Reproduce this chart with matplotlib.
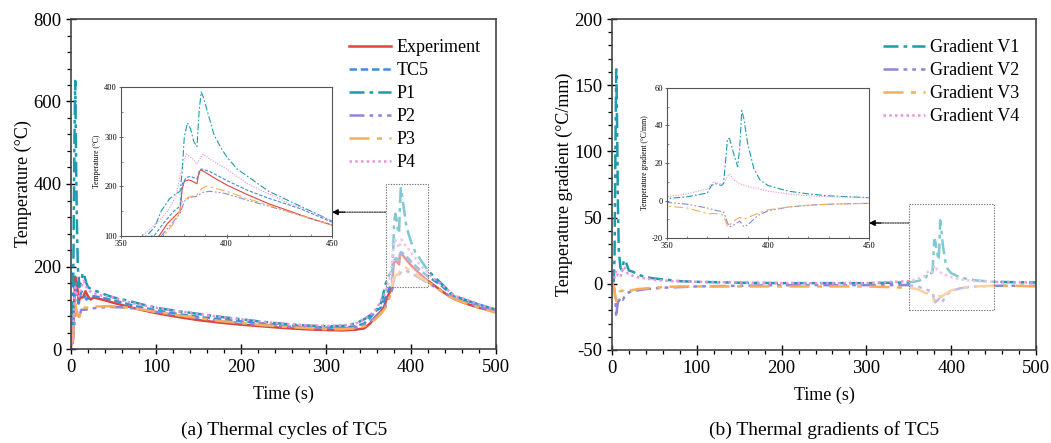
import matplotlib
matplotlib.use("Agg")
import matplotlib.pyplot as plt
from matplotlib.patches import Rectangle
from matplotlib.ticker import MultipleLocator
import numpy as np

plt.rcParams['font.family'] = ['Liberation Serif', 'DejaVu Serif']
plt.rcParams['mathtext.fontset'] = 'stix'
plt.rcParams['axes.unicode_minus'] = False

# ---------- (a) thermal cycles of TC5 ----------
exp_t = [0, 2, 4, 5, 7, 9, 11, 14, 17, 20, 23, 27, 32, 40, 50, 65, 80, 100, 125, 150, 175, 200, 225, 250,
         275, 300, 320, 335, 345, 352, 358, 364, 368, 372, 376, 378, 379, 380, 382, 384, 386, 387, 388, 390,
         395, 400, 410, 420, 430, 440, 450, 465, 480, 500]
exp_T = [10, 15, 120, 175, 160, 115, 125, 125, 140, 128, 120, 125, 122, 118, 112, 104, 96, 87, 78, 70, 64, 59, 55, 51,
         48, 46, 45, 47, 50, 62, 78, 90, 100, 125, 142, 150, 195, 210, 213, 210, 205, 230, 233, 228,
         215, 203, 183, 165, 150, 135, 122, 110, 100, 90]

tc5_t = [0, 2, 4, 5, 7, 9, 12, 15, 18, 22, 27, 35, 50, 65, 80, 100, 125, 150, 175, 200, 225, 250, 275, 300,
         320, 335, 345, 352, 358, 363, 366, 370, 375, 378, 379, 381, 383, 386, 388, 392, 400, 410, 420, 435,
         450, 465, 480, 500]
tc5_T = [10, 20, 140, 160, 125, 110, 140, 135, 120, 125, 128, 125, 118, 110, 102, 94, 85, 78, 72, 67, 62, 58, 55, 52,
         52, 55, 62, 75, 92, 98, 102, 125, 150, 160, 205, 218, 220, 215, 235, 230, 212, 192, 176, 155,
         128, 118, 108, 95]

p1_t = [0, 2, 3, 4, 5, 6, 7, 8, 10, 12, 14, 16, 18, 20, 24, 30, 40, 50, 65, 80, 100, 125, 150, 175, 200, 225,
        250, 275, 300, 320, 335, 345, 352, 358, 362, 366, 369, 373, 376, 378, 379, 380, 381.5, 383, 384.5, 386,
        387, 388, 389, 390, 392, 394, 397, 400, 405, 410, 420, 430, 440, 450, 465, 480, 500]
p1_T = [10, 60, 250, 500, 650, 450, 300, 200, 150, 165, 185, 175, 160, 150, 145, 140, 132, 125, 118, 110, 100, 92, 85, 78, 72, 66,
        61, 57, 55, 56, 62, 72, 82, 92, 100, 118, 150, 175, 185, 190, 230, 300, 328, 315, 290, 280,
        350, 390, 380, 365, 335, 305, 280, 260, 235, 220, 190, 170, 150, 130, 118, 107, 95]

p2_t = [0, 2, 4, 5, 6, 8, 10, 12, 15, 20, 30, 45, 60, 80, 100, 125, 150, 175, 200, 225, 250, 275, 300, 320,
        335, 345, 352, 358, 363, 366, 369, 372, 375, 378, 380, 383, 386, 389, 392, 396, 400, 410, 420, 430,
        440, 450, 465, 480, 500]
p2_T = [10, 15, 60, 85, 78, 75, 80, 95, 95, 96, 100, 102, 101, 97, 90, 82, 75, 68, 63, 58, 55, 52, 50, 50,
        53, 58, 66, 76, 86, 92, 100, 115, 130, 145, 170, 178, 180, 188, 190, 188, 185, 172, 160, 148,
        135, 123, 112, 102, 90]

p3_t = [0, 2, 4, 5, 6, 8, 10, 12, 15, 20, 30, 45, 60, 80, 100, 125, 150, 175, 200, 225, 250, 275, 300, 320,
        335, 345, 352, 358, 363, 367, 370, 374, 377, 379, 382, 386, 388, 390, 393, 400, 410, 420, 430, 440,
        450, 465, 480, 500]
p3_T = [10, 20, 90, 110, 100, 80, 78, 100, 100, 100, 103, 104, 102, 97, 90, 82, 75, 68, 63, 58, 54, 51, 48, 48,
        50, 55, 62, 72, 82, 92, 100, 120, 140, 170, 178, 183, 195, 200, 198, 190, 175, 162, 148, 135,
        122, 110, 100, 88]

p4_t = [0, 2, 4, 5, 6, 8, 10, 13, 15, 18, 22, 28, 35, 50, 65, 80, 100, 125, 150, 175, 200, 225, 250, 275, 300,
        320, 335, 345, 352, 358, 360, 364, 368, 372, 376, 379, 381, 384, 386, 388, 389, 392, 400, 410, 420,
        430, 440, 450, 465, 480, 500]
p4_T = [10, 25, 120, 150, 140, 125, 130, 155, 165, 150, 140, 135, 130, 125, 115, 108, 100, 92, 85, 78, 72, 66, 61, 58, 56,
        57, 62, 72, 82, 95, 100, 115, 130, 150, 180, 240, 265, 255, 245, 260, 265, 255, 235, 205, 185,
        165, 150, 130, 120, 108, 95]

# ---------- (b) thermal gradients of TC5 ----------
v1_t = [0, 2, 3, 4, 5, 6, 7, 8, 10, 12, 14, 16, 20, 25, 30, 40, 50, 65, 80, 100, 150, 200, 250, 300, 350, 360,
        365, 370, 372, 374, 377, 378, 380, 381, 383, 385, 386, 387, 388, 390, 393, 396, 400, 410, 420, 430,
        440, 450, 475, 500]
v1_g = [0, 2, 20, 100, 162, 120, 60, 25, 12, 10, 18, 17, 10, 9, 7, 5, 4, 3, 2, 1.5, 0.8, 0.5, 0.5, 0.5, 1, 2,
        3, 4, 8, 9, 8, 9, 33, 33, 25, 18, 28, 48, 44, 30, 17, 11, 8, 5, 3.5, 2.5,
        2, 1.5, 1.2, 1]

v2_t = [0, 2, 3, 4, 5, 6, 7, 9, 11, 13, 15, 18, 22, 30, 40, 60, 80, 100, 150, 200, 250, 300, 350, 360, 370,
        375, 378, 380, 381, 383, 386, 388, 390, 395, 400, 410, 420, 430, 450, 475, 500]
v2_g = [0, -2, -5, -12, -25, -18, -14, -12, -10, -12, -9, -7, -6, -5, -4, -3, -2.5, -2, -1.5, -1, -1, -1, -1, -2, -4,
        -5.5, -6, -12, -14, -13, -11, -14, -13, -8, -5.5, -3.5, -2.5, -2, -1.5, -1.5, -1.5]

v3_t = [0, 2, 3, 4, 5, 6, 7, 9, 12, 15, 18, 22, 30, 40, 60, 80, 100, 150, 200, 250, 300, 350, 360, 370, 376,
        378, 380, 381, 383, 386, 388, 390, 395, 400, 410, 420, 430, 450, 475, 500]
v3_g = [0, -2, -5, -10, -13, -11, -8, -6, -5, -7, -6, -5, -4, -3.5, -2.5, -2, -2, -2, -2, -2, -2, -3, -4, -7, -7,
        -8, -14, -13, -11, -9, -10, -9, -7, -5, -3.5, -2.5, -2, -1.5, -1.5, -2]

v4_t = [0, 2, 4, 5, 7, 10, 13, 15, 18, 20, 25, 30, 40, 50, 70, 100, 150, 200, 300, 350, 360, 365, 370, 373,
        376, 378, 380, 381, 383, 386, 390, 400, 410, 420, 430, 450, 475, 500]
v4_g = [0, 2, 8, 10, 6, 5, 13, 12, 8, 7, 6, 5, 4, 3, 2, 1.5, 1, 0.5, 0.5, 2, 3.5, 5, 6, 10,
        9, 9, 13, 14, 11, 9, 7.5, 5, 3.5, 2.5, 2, 1.5, 1, 1]

# styles
C_EXP, C_TC5, C_P1, C_P2, C_P3, C_P4 = "#e0443c", "#3d8fdc", "#1b9bae", "#8c86d9", "#f7ad5a", "#e793dd"
LS_EXP = "-"
LS_TC5 = (0, (3, 1.5))
LS_P1 = (0, (6, 2, 1.5, 2))
LS_P2 = (0, (6, 2, 1.5, 2, 1.5, 2))
LS_P3 = (0, (8, 3, 2, 3))
LS_P4 = (0, (1, 1.3))

left_series = [
    ("Experiment", exp_t, exp_T, C_EXP, LS_EXP),
    ("TC5", tc5_t, tc5_T, C_TC5, LS_TC5),
    ("P1", p1_t, p1_T, C_P1, LS_P1),
    ("P2", p2_t, p2_T, C_P2, LS_P2),
    ("P3", p3_t, p3_T, C_P3, LS_P3),
    ("P4", p4_t, p4_T, C_P4, LS_P4),
]
right_series = [
    ("Gradient V1", v1_t, v1_g, C_P1, LS_P1),
    ("Gradient V2", v2_t, v2_g, C_P2, LS_P2),
    ("Gradient V3", v3_t, v3_g, C_P3, LS_P3),
    ("Gradient V4", v4_t, v4_g, C_P4, LS_P4),
]

W, H = 1051, 443
fig = plt.figure(figsize=(W / 100, H / 100), dpi=100)
SPINE = "#444444"


def px_axes(x0, y0, x1, y1):
    # pixel box (left, top, right, bottom) -> figure fraction
    return fig.add_axes([x0 / W, 1 - y1 / H, (x1 - x0) / W, (y1 - y0) / H])


def style_main(ax, xmaj, ymaj):
    for s in ax.spines.values():
        s.set_color(SPINE)
        s.set_linewidth(1.2)
    ax.xaxis.set_major_locator(MultipleLocator(xmaj))
    ax.xaxis.set_minor_locator(MultipleLocator(xmaj / 5))
    ax.yaxis.set_major_locator(MultipleLocator(ymaj))
    ax.yaxis.set_minor_locator(MultipleLocator(ymaj / 5))
    ax.tick_params(which="major", direction="inout", length=7, width=1.0, labelsize=13.5, color="black")
    ax.tick_params(which="minor", direction="out", length=3, width=0.9, color="black")
    ax.tick_params(top=False, right=False, which="both")


def style_inset(ax):
    for s in ax.spines.values():
        s.set_color("#555555")
        s.set_linewidth(0.8)
    ax.tick_params(which="major", direction="inout", length=3, width=0.6, labelsize=6, pad=1.5, color="#555555")
    ax.tick_params(which="minor", direction="in", length=1.5, width=0.5, color="#555555")
    ax.tick_params(top=False, right=False, which="both")


def zoom_box(ax, inset, x0, x1, y0, y1, arrow_frac):
    ax.add_patch(Rectangle((x0, y0), x1 - x0, y1 - y0, facecolor="white", alpha=0.45,
                           edgecolor="none", zorder=5))
    ax.add_patch(Rectangle((x0, y0), x1 - x0, y1 - y0, facecolor="none", edgecolor="#777777",
                           linestyle=(0, (1.2, 1.2)), linewidth=0.8, zorder=6))
    inset_disp = inset.transAxes.transform((1, arrow_frac))
    y_data = ax.transData.inverted().transform(inset_disp)[1]
    ax.annotate("", xy=(1.0, arrow_frac), xycoords=inset.transAxes,
                xytext=(x0, y_data), textcoords="data",
                arrowprops=dict(arrowstyle="-", linestyle=(0, (1, 1)), color="#333333", lw=0.9,
                                shrinkA=0, shrinkB=0), zorder=7)
    ax.annotate("", xy=(1.0, arrow_frac), xycoords=inset.transAxes,
                xytext=(1.0 + 0.06, arrow_frac), textcoords=inset.transAxes,
                arrowprops=dict(arrowstyle="-|>", color="black", lw=0.8, mutation_scale=9,
                                shrinkA=0, shrinkB=0), zorder=8)


# ----- left panel -----
axL = px_axes(71, 19, 496, 349)
for name, t, v, c, ls in left_series:
    axL.plot(t, v, color=c, linestyle=ls, linewidth=1.8, label=name)
axL.set_xlim(0, 500)
axL.set_ylim(0, 800)
style_main(axL, 100, 200)
axL.set_xlabel("Time (s)", fontsize=13, labelpad=7)
axL.set_ylabel("Temperature (°C)", fontsize=13, labelpad=1)
axL.legend(loc="upper left", bbox_to_anchor=(0.655, 0.938), frameon=False, fontsize=13,
           handlelength=2.3, handletextpad=0.3, labelspacing=0.33, borderpad=0, borderaxespad=0)

insL = px_axes(121, 87, 332, 236)
for name, t, v, c, ls in left_series:
    insL.plot(t, v, color=c, linestyle=ls, linewidth=0.8)
insL.set_xlim(350, 450)
insL.set_ylim(100, 400)
insL.xaxis.set_major_locator(MultipleLocator(50))
insL.xaxis.set_minor_locator(MultipleLocator(10))
insL.yaxis.set_major_locator(MultipleLocator(100))
insL.yaxis.set_minor_locator(MultipleLocator(50))
style_inset(insL)
insL.set_ylabel("Temperature (°C)", fontsize=5.5, labelpad=2)
zoom_box(axL, insL, 370, 420, 150, 400, 0.16)

# ----- right panel -----
axR = px_axes(612, 19, 1036, 350)
for name, t, v, c, ls in right_series:
    axR.plot(t, v, color=c, linestyle=ls, linewidth=1.8, label=name)
axR.set_xlim(0, 500)
axR.set_ylim(-50, 200)
style_main(axR, 100, 50)
axR.set_xlabel("Time (s)", fontsize=13, labelpad=7)
axR.set_ylabel("Temperature gradient (°C/mm)", fontsize=13, labelpad=1)
axR.legend(loc="upper left", bbox_to_anchor=(0.64, 0.939), frameon=False, fontsize=13,
           handlelength=2.3, handletextpad=0.3, labelspacing=0.33, borderpad=0, borderaxespad=0)

insR = px_axes(667, 88, 869, 238)
for name, t, v, c, ls in right_series:
    insR.plot(t, v, color=c, linestyle=ls, linewidth=0.8)
insR.set_xlim(350, 450)
insR.set_ylim(-20, 60)
insR.xaxis.set_major_locator(MultipleLocator(50))
insR.xaxis.set_minor_locator(MultipleLocator(10))
insR.yaxis.set_major_locator(MultipleLocator(20))
insR.yaxis.set_minor_locator(MultipleLocator(10))
style_inset(insR)
insR.set_ylabel("Temperature gradient (°C/mm)", fontsize=5.5, labelpad=2)
zoom_box(axR, insR, 350, 450, -20, 60, 0.1)

# captions
fig.text(284 / W, 1 - 430 / H, "(a) Thermal cycles of TC5", ha="center", va="center", fontsize=14)
fig.text(824 / W, 1 - 430 / H, "(b) Thermal gradients of TC5", ha="center", va="center", fontsize=14)

fig.savefig("out.png", dpi=100)
